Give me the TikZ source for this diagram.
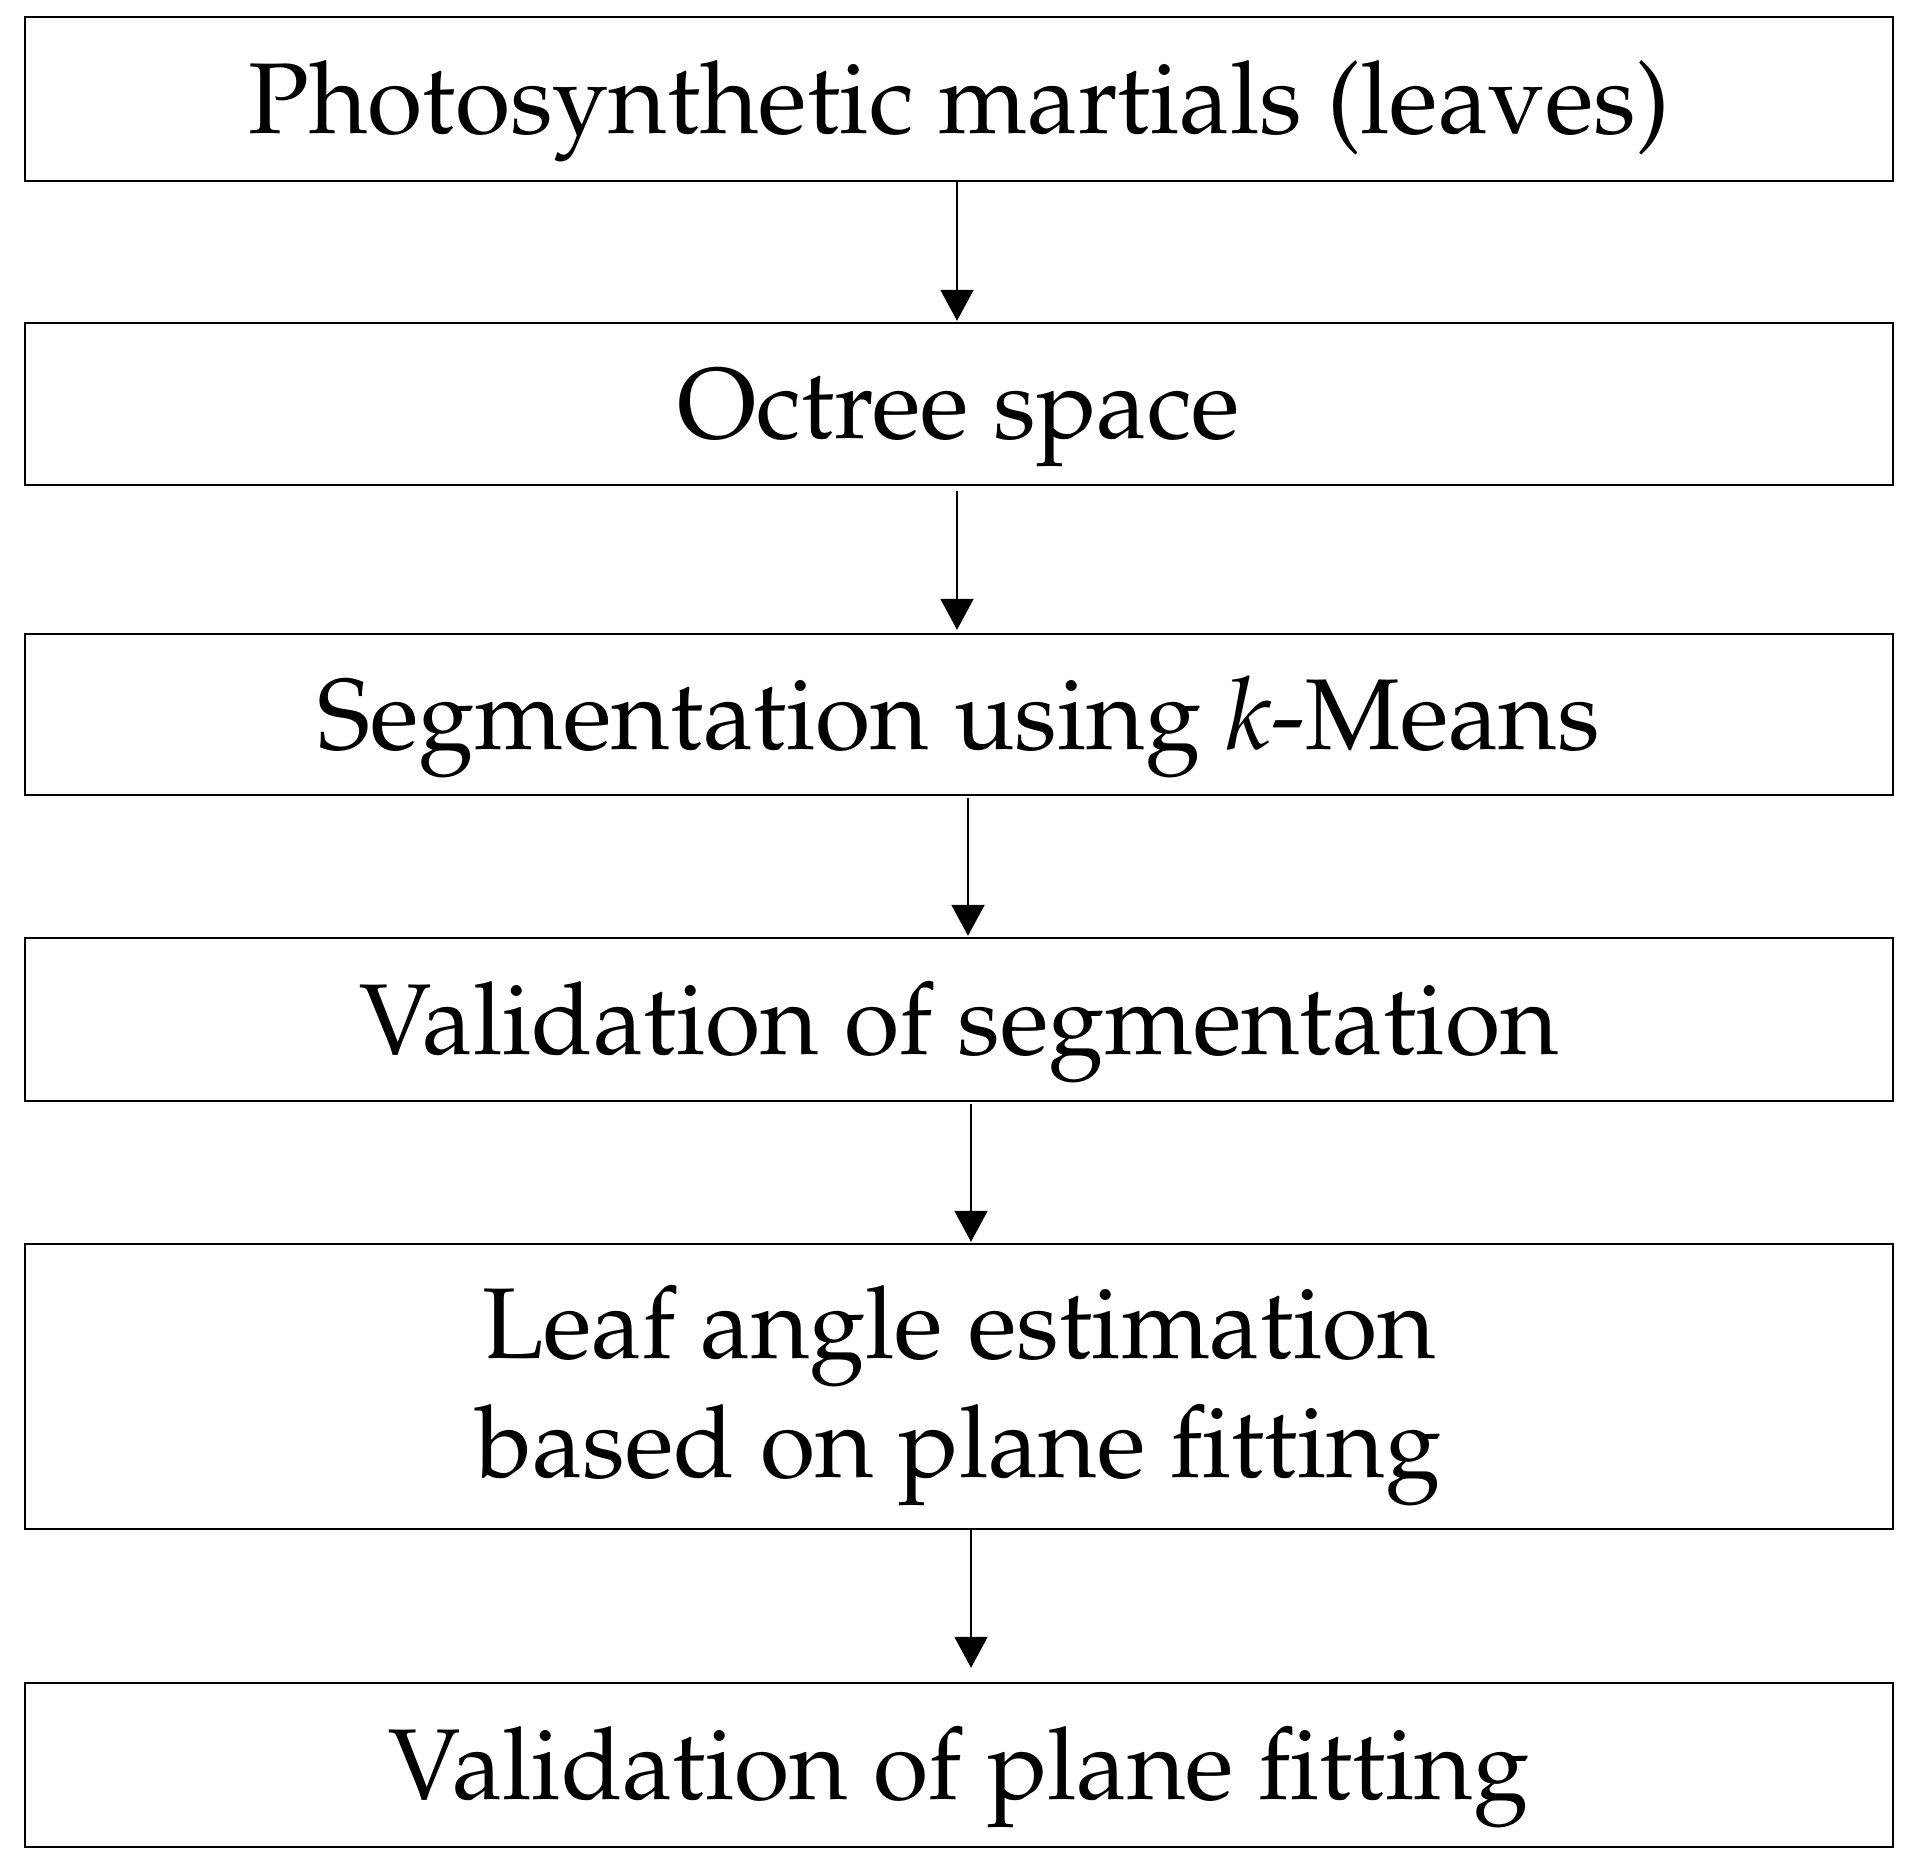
\documentclass[tikz,border=0pt]{standalone}
\usepackage[T1]{fontenc}
\usepackage{mathpazo}
\usetikzlibrary{arrows.meta}
\begin{document}
\begin{tikzpicture}[x=1pt,y=-1pt,
  boxbase/.style={draw, line width=2.4pt, minimum width=1868pt, inner sep=0pt,
    font=\fontsize{100.6}{119}\selectfont},
  box/.style={boxbase, text height=69pt, text depth=0pt},
  conn/.style={line width=2pt, -{Triangle[width=33pt,length=31pt]}}]
\useasboundingbox (0,0) rectangle (1917,1866);
\node[box, minimum height=164pt] (b1) at (959,99) {Photosynthetic martials (leaves)};
\node[box, minimum height=162pt] (b2) at (959,404) {Octree space};
\node[box, minimum height=161pt] (b3) at (959,714.5) {Segmentation using \textit{k}-Means};
\node[box, minimum height=163pt] (b4) at (959,1019.5) {Validation of segmentation};
\node[boxbase, minimum height=285pt, align=center] (b5) at (959,1386.5) {\rule{0pt}{92pt}Leaf angle estimation\\based on plane fitting};
\node[box, minimum height=164pt] (b6) at (959,1765) {Validation of plane fitting};
\draw[conn] ([xshift=-2pt]b1.south) -- ([xshift=-2pt,yshift=1pt]b2.north);
\draw[conn] ([xshift=-2pt,yshift=-5pt]b2.south) -- ([xshift=-2pt,yshift=3pt]b3.north);
\draw[conn] ([xshift=9pt,yshift=-2pt]b3.south) -- ([xshift=9pt,yshift=1pt]b4.north);
\draw[conn] ([xshift=12pt,yshift=-2pt]b4.south) -- ([xshift=12pt,yshift=1pt]b5.north);
\draw[conn] ([xshift=12pt]b5.south) -- ([xshift=12pt,yshift=14pt]b6.north);
\end{tikzpicture}
\end{document}
